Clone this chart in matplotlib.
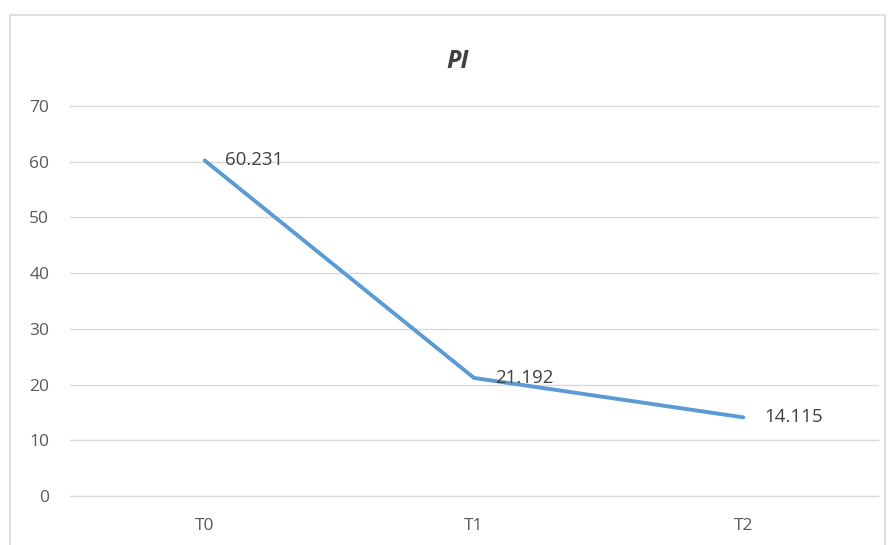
import matplotlib.pyplot as plt
from matplotlib.patches import Rectangle

categories = ["T0", "T1", "T2"]
pi_values = [60.231, 21.192, 14.115]
value_labels = ["60.231", "21.192", "14.115"]
y_ticks = [0, 10, 20, 30, 40, 50, 60, 70]

plt.rcParams['font.family'] = ['Open Sans', 'DejaVu Sans']

fig = plt.figure(figsize=(8.92, 5.45), dpi=100)
fig.patches.append(Rectangle((10 / 892, -0.05), 875 / 892, 1.05 - 15 / 545,
                             transform=fig.transFigure, fill=False,
                             edgecolor="#d9d9d9", linewidth=1.2))
ax = fig.add_axes([70 / 892, 1 - 496 / 545, 808 / 892, 390 / 545])

x = list(range(len(categories)))
ax.plot(x, pi_values, color="#5b9bd5", linewidth=2.8, solid_capstyle="round")
for xi, v, lab in zip(x, pi_values, value_labels):
    ax.annotate(lab, (xi, v), xytext=(15, 0), textcoords="offset points",
                va="center", ha="left", fontsize=13.5, color="#404040")

ax.set_xlim(-0.5, 2.5)
ax.set_ylim(0, 70)
ax.set_yticks(y_ticks)
ax.set_xticks(x)
ax.set_xticklabels(categories)
ax.grid(axis="y", color="#d9d9d9", linewidth=1)
for gl in ax.get_ygridlines():
    gl.set_clip_on(False)
ax.set_axisbelow(True)
for s in ax.spines.values():
    s.set_visible(False)
ax.tick_params(length=0, colors="#595959", labelsize=12.5)
ax.tick_params(axis="y", pad=15)
ax.tick_params(axis="x", pad=16)

fig.text(458 / 892, 1 - 61 / 545, "PI", ha="center", va="center",
         fontsize=18, fontweight="bold", fontstyle="italic", color="#404040")

fig.savefig("out.png", dpi=100)
